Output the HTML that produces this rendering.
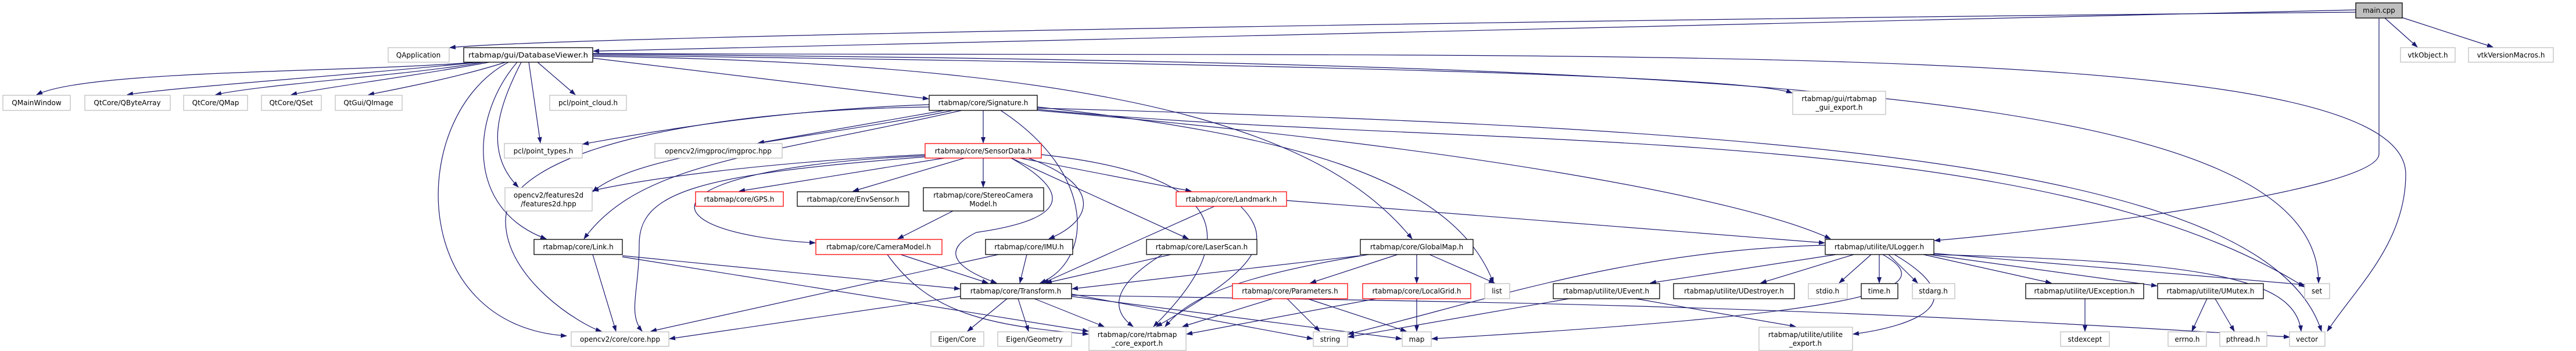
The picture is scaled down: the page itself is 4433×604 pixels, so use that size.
<!DOCTYPE html>
<html><head><meta charset="utf-8"><style>
html,body{margin:0;padding:0;background:#fff;}
svg{display:block;}
text{font-family:"DejaVu Sans","Liberation Sans",sans-serif;font-size:12px;fill:#000;}
.e{fill:none;stroke:#191970;stroke-width:1.2;marker-end:url(#a);}
.g{fill:#fff;stroke:#bfbfbf;stroke-width:1.3;}
.k{fill:#fff;stroke:#000;stroke-width:1.3;}
.r{fill:#fff;stroke:#ff0000;stroke-width:1.3;}
</style></head><body>
<svg width="4433" height="604" viewBox="0 0 4433 604" xmlns="http://www.w3.org/2000/svg">
<defs><marker id="a" markerWidth="11" markerHeight="8" refX="10" refY="4" orient="auto" markerUnits="userSpaceOnUse"><path d="M0,0 L11,4 L0,8 z" fill="#191970"/></marker></defs>
<g>
<path class="e" d="M4054 17 L1021 88"/>
<path class="e" d="M4054 21 C3000 30,1000 60,774 82"/>
<path class="e" d="M4104 31 L4160 81"/>
<path class="e" d="M4130 29 L4290 81"/>
<path class="e" d="M4094 31 L4094 265 C4094 330,3500 400,3329 414"/>
<path class="e" d="M820 107 C600 125,150 120,63 163"/>
<path class="e" d="M825 107 C600 130,300 150,219 163"/>
<path class="e" d="M832 107 C700 130,450 145,371 163"/>
<path class="e" d="M842 107 C720 130,560 150,501 163"/>
<path class="e" d="M870 107 C800 130,700 150,634 163"/>
<path class="e" d="M925 107 L990 163"/>
<path class="e" d="M910 107 L930 246"/>
<path class="e" d="M897 107 C860 180,830 260,892 322"/>
<path class="e" d="M890 107 C810 200,800 360,940 411"/>
<path class="e" d="M875 107 C700 200,700 560,975 578"/>
<path class="e" d="M1020 100 L1598 170"/>
<path class="e" d="M1020 97 C2000 110,2300 250,2430 411"/>
<path class="e" d="M1020 95 C2200 110,3000 130,3084 160"/>
<path class="e" d="M1020 93 C3000 110,3990 150,3990 487"/>
<path class="e" d="M1020 92 C2800 100,4140 60,4140 300 C4140 420,4050 500,4005 570"/>
<path class="e" d="M1600 180 C1300 190,1050 240,1003 248"/>
<path class="e" d="M1625 190 L1305 246"/>
<path class="e" d="M1640 190 C1400 240,1100 260,1020 330"/>
<path class="e" d="M1655 190 C1300 270,1100 280,1005 411"/>
<path class="e" d="M1600 184 C1200 190,870 260,870 380 C870 480,1000 560,1035 570"/>
<path class="e" d="M1692 190 L1692 246"/>
<path class="e" d="M1722 190 C1890 300,1880 450,1790 487"/>
<path class="e" d="M1785 184 C2200 230,2500 300,2570 487"/>
<path class="e" d="M1785 188 C2500 260,3500 200,3966 494"/>
<path class="e" d="M1785 186 C3000 220,3900 270,3995 570"/>
<path class="e" d="M1785 190 C2500 250,3000 340,3150 411"/>
<path class="e" d="M1625 272 L1272 329"/>
<path class="e" d="M1660 272 L1468 329"/>
<path class="e" d="M1692 272 L1692 322"/>
<path class="e" d="M1755 272 L2050 329"/>
<path class="e" d="M1592 268 C1100 290,1100 400,1403 418"/>
<path class="e" d="M1770 272 C1900 320,1880 380,1805 411"/>
<path class="e" d="M1740 272 L2045 411"/>
<path class="e" d="M1740 272 C1860 340,1820 380,1680 400 C1620 430,1640 460,1715 487"/>
<path class="e" d="M1592 266 C1300 280,1100 310,1020 328"/>
<path class="e" d="M1592 270 C1200 300,1100 330,1100 420 C1100 500,1080 540,1105 570"/>
<path class="e" d="M1792 266 C2100 300,2150 400,1985 562"/>
<path class="e" d="M1640 363 L1545 411"/>
<path class="e" d="M1550 438 L1700 487"/>
<path class="e" d="M1527 438 C1600 540,1700 560,1873 575"/>
<path class="e" d="M1767 438 L1755 487"/>
<path class="e" d="M1718 438 L1120 570"/>
<path class="e" d="M2015 438 L1800 487"/>
<path class="e" d="M2000 438 C1900 500,1920 540,1950 562"/>
<path class="e" d="M2090 355 L1795 487"/>
<path class="e" d="M2135 355 C2200 420,2150 470,1990 562"/>
<path class="e" d="M2214 345 L3140 418"/>
<path class="e" d="M1071 440 L1652 497"/>
<path class="e" d="M1020 438 L1060 570"/>
<path class="e" d="M1071 442 L1873 570"/>
<path class="e" d="M2405 438 L2255 487"/>
<path class="e" d="M2438 438 L2438 487"/>
<path class="e" d="M2460 438 L2572 487"/>
<path class="e" d="M2341 440 L1845 497"/>
<path class="e" d="M2355 438 C2100 480,2040 520,2005 562"/>
<path class="e" d="M2438 514 L2438 570"/>
<path class="e" d="M2368 514 L2042 575"/>
<path class="e" d="M2215 514 L2271 570"/>
<path class="e" d="M2250 514 L2420 570"/>
<path class="e" d="M2190 514 L2035 562"/>
<path class="e" d="M1733 514 L1665 570"/>
<path class="e" d="M1752 514 L1770 570"/>
<path class="e" d="M1780 514 L1900 562"/>
<path class="e" d="M1653 510 L1152 583"/>
<path class="e" d="M1844 506 L2259 583"/>
<path class="e" d="M1844 510 L2412 583"/>
<path class="e" d="M1844 508 C2500 520,3000 520,3940 580"/>
<path class="e" d="M2700 514 L2320 580"/>
<path class="e" d="M2815 514 L3090 562"/>
<path class="e" d="M3160 438 L2840 487"/>
<path class="e" d="M3190 438 L3030 487"/>
<path class="e" d="M3220 438 L3165 487"/>
<path class="e" d="M3234 438 L3234 487"/>
<path class="e" d="M3250 438 L3300 487"/>
<path class="e" d="M3310 438 L3530 487"/>
<path class="e" d="M3320 438 L3712 492"/>
<path class="e" d="M3328 436 L3966 490"/>
<path class="e" d="M3328 438 C3800 450,3950 480,3960 570"/>
<path class="e" d="M3141 422 C2800 430,2550 520,2320 575"/>
<path class="e" d="M3240 438 C3350 500,3200 540,2464 583"/>
<path class="e" d="M3260 438 C3400 520,3300 560,3189 575"/>
<path class="e" d="M3588 514 L3588 570"/>
<path class="e" d="M3798 514 L3772 570"/>
<path class="e" d="M3812 514 L3845 570"/>
</g>
<g>
<rect x="4054" y="5" width="80" height="26" fill="#bfbfbf" stroke="#000" stroke-width="1.3"/>
<text x="4094" y="22" text-anchor="middle">main.cpp</text>
<rect class="k" x="798" y="82" width="222" height="25"/><text x="909" y="99" text-anchor="middle" textLength="206" lengthAdjust="spacingAndGlyphs">rtabmap/gui/DatabaseViewer.h</text>
<rect class="g" x="668" y="82" width="105" height="25"/><text x="720" y="99" text-anchor="middle">QApplication</text>
<rect class="g" x="4131" y="82" width="94" height="25"/><text x="4178" y="99" text-anchor="middle">vtkObject.h</text>
<rect class="g" x="4248" y="82" width="146" height="25"/><text x="4321" y="99" text-anchor="middle">vtkVersionMacros.h</text>
<rect class="g" x="5" y="164" width="116" height="26"/><text x="63" y="181" text-anchor="middle">QMainWindow</text>
<rect class="g" x="146" y="164" width="147" height="26"/><text x="219" y="181" text-anchor="middle">QtCore/QByteArray</text>
<rect class="g" x="316" y="164" width="110" height="26"/><text x="371" y="181" text-anchor="middle">QtCore/QMap</text>
<rect class="g" x="450" y="164" width="103" height="26"/><text x="501" y="181" text-anchor="middle">QtCore/QSet</text>
<rect class="g" x="577" y="164" width="115" height="26"/><text x="634" y="181" text-anchor="middle">QtGui/QImage</text>
<rect class="g" x="946" y="164" width="132" height="26"/><text x="1012" y="181" text-anchor="middle">pcl/point_cloud.h</text>
<rect class="k" x="1599" y="164" width="186" height="26"/><text x="1692" y="181" text-anchor="middle">rtabmap/core/Signature.h</text>
<rect class="g" x="3085" y="157" width="160" height="40"/><text x="3165" y="174" text-anchor="middle">rtabmap/gui/rtabmap</text><text x="3165" y="189" text-anchor="middle">_gui_export.h</text>
<rect class="g" x="868" y="247" width="134" height="25"/><text x="935" y="264" text-anchor="middle">pcl/point_types.h</text>
<rect class="g" x="1127" y="247" width="219" height="25"/><text x="1236" y="264" text-anchor="middle">opencv2/imgproc/imgproc.hpp</text>
<rect class="r" x="1592" y="247" width="200" height="25"/><text x="1692" y="264" text-anchor="middle">rtabmap/core/SensorData.h</text>
<rect class="g" x="869" y="323" width="150" height="40"/><text x="944" y="340" text-anchor="middle">opencv2/features2d</text><text x="944" y="355" text-anchor="middle">/features2d.hpp</text>
<rect class="k" x="1589" y="323" width="207" height="40"/><text x="1692" y="340" text-anchor="middle">rtabmap/core/StereoCamera</text><text x="1692" y="355" text-anchor="middle">Model.h</text>
<rect class="r" x="1197" y="330" width="151" height="25"/><text x="1272" y="347" text-anchor="middle">rtabmap/core/GPS.h</text>
<rect class="k" x="1372" y="330" width="192" height="25"/><text x="1468" y="347" text-anchor="middle">rtabmap/core/EnvSensor.h</text>
<rect class="r" x="2024" y="330" width="190" height="25"/><text x="2119" y="347" text-anchor="middle">rtabmap/core/Landmark.h</text>
<rect class="k" x="919" y="412" width="152" height="26"/><text x="995" y="429" text-anchor="middle">rtabmap/core/Link.h</text>
<rect class="r" x="1404" y="412" width="217" height="26"/><text x="1512" y="429" text-anchor="middle">rtabmap/core/CameraModel.h</text>
<rect class="k" x="1696" y="412" width="150" height="26"/><text x="1771" y="429" text-anchor="middle">rtabmap/core/IMU.h</text>
<rect class="k" x="1973" y="412" width="190" height="26"/><text x="2068" y="429" text-anchor="middle">rtabmap/core/LaserScan.h</text>
<rect class="k" x="2341" y="412" width="194" height="26"/><text x="2438" y="429" text-anchor="middle">rtabmap/core/GlobalMap.h</text>
<rect class="k" x="3141" y="412" width="187" height="26"/><text x="3234" y="429" text-anchor="middle">rtabmap/utilite/ULogger.h</text>
<rect class="k" x="1653" y="488" width="191" height="26"/><text x="1748" y="505" text-anchor="middle">rtabmap/core/Transform.h</text>
<rect class="r" x="2121" y="488" width="198" height="26"/><text x="2220" y="505" text-anchor="middle">rtabmap/core/Parameters.h</text>
<rect class="r" x="2345" y="488" width="186" height="26"/><text x="2438" y="505" text-anchor="middle">rtabmap/core/LocalGrid.h</text>
<rect class="g" x="2555" y="488" width="43" height="26"/><text x="2576" y="505" text-anchor="middle">list</text>
<rect class="k" x="2673" y="488" width="183" height="26"/><text x="2764" y="505" text-anchor="middle">rtabmap/utilite/UEvent.h</text>
<rect class="k" x="2880" y="488" width="208" height="26"/><text x="2984" y="505" text-anchor="middle">rtabmap/utilite/UDestroyer.h</text>
<rect class="g" x="3112" y="488" width="67" height="26"/><text x="3145" y="505" text-anchor="middle">stdio.h</text>
<rect class="k" x="3203" y="488" width="63" height="26"/><text x="3234" y="505" text-anchor="middle">time.h</text>
<rect class="g" x="3291" y="488" width="73" height="26"/><text x="3327" y="505" text-anchor="middle">stdarg.h</text>
<rect class="k" x="3486" y="488" width="203" height="26"/><text x="3587" y="505" text-anchor="middle">rtabmap/utilite/UException.h</text>
<rect class="k" x="3713" y="488" width="182" height="26"/><text x="3804" y="505" text-anchor="middle">rtabmap/utilite/UMutex.h</text>
<rect class="g" x="3966" y="488" width="43" height="26"/><text x="3987" y="505" text-anchor="middle">set</text>
<rect class="g" x="983" y="571" width="168" height="25"/><text x="1067" y="588" text-anchor="middle">opencv2/core/core.hpp</text>
<rect class="g" x="1602" y="571" width="91" height="25"/><text x="1647" y="588" text-anchor="middle">Eigen/Core</text>
<rect class="g" x="1717" y="571" width="127" height="25"/><text x="1780" y="588" text-anchor="middle">Eigen/Geometry</text>
<rect class="g" x="1874" y="563" width="167" height="40"/><text x="1957" y="580" text-anchor="middle">rtabmap/core/rtabmap</text><text x="1957" y="595" text-anchor="middle">_core_export.h</text>
<rect class="g" x="2260" y="571" width="59" height="25"/><text x="2289" y="588" text-anchor="middle">string</text>
<rect class="g" x="2413" y="571" width="50" height="25"/><text x="2438" y="588" text-anchor="middle">map</text>
<rect class="g" x="3027" y="563" width="161" height="40"/><text x="3107" y="580" text-anchor="middle">rtabmap/utilite/utilite</text><text x="3107" y="595" text-anchor="middle">_export.h</text>
<rect class="g" x="3546" y="571" width="84" height="25"/><text x="3588" y="588" text-anchor="middle">stdexcept</text>
<rect class="g" x="3731" y="571" width="66" height="25"/><text x="3764" y="588" text-anchor="middle">errno.h</text>
<rect class="g" x="3820" y="571" width="81" height="25"/><text x="3860" y="588" text-anchor="middle">pthread.h</text>
<rect class="g" x="3940" y="571" width="61" height="25"/><text x="3970" y="588" text-anchor="middle">vector</text>
</g>
</svg>
</body></html>
